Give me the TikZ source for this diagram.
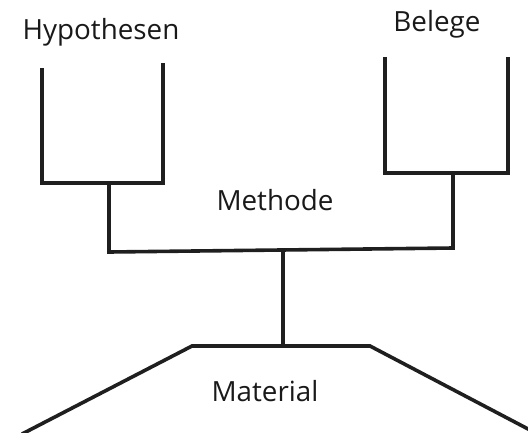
\documentclass[tikz,border=0pt]{standalone}
\usepackage{fontspec}
\setmainfont{Open Sans}
\usetikzlibrary{positioning}

\begin{document}
\begin{tikzpicture}[x=1pt,y=-1pt,line width=3.6pt,line join=miter,
        label/.style={font=\fontsize{27.8}{33}\selectfont,text=black!90}]
        \useasboundingbox (0,0) rectangle (528,432);

        \node[label] (hyp) at (101,32)  {Hypothesen};
        \node[label] (bel) at (437,24)  {Belege};
        \node[label] (met) at (275,200) {Methode};
        \node[label] (mat) at (265,391) {Material};

        \coordinate (h1) at (42,68);
        \coordinate (h2) at (42,183);
        \coordinate (h3) at (163,183);
        \coordinate (h4) at (163,63);
        \coordinate (hs) at (109,183);

        \coordinate (b1) at (385,57);
        \coordinate (b2) at (385,173);
        \coordinate (b3) at (508,173);
        \coordinate (b4) at (508,57);
        \coordinate (bs) at (453,173);

        \coordinate (ml) at (109,252);
        \coordinate (mr) at (453,248);
        \coordinate (mc) at (283,250);

        \coordinate (m1) at (22,434);
        \coordinate (m2) at (192,346);
        \coordinate (m3) at (370,346);
        \coordinate (m4) at (530,430);
        \coordinate (mt) at (283,346);

        \draw[black!88] (h1) -- (h2) -- (h3) -- (h4);
        \draw[black!88] (b1) -- (b2) -- (b3) -- (b4);
        \draw[black!88] (hs) -- (ml) -- (mr) -- (bs);
        \draw[black!88] (mc) -- (mt);
        \draw[black!88] (m1) -- (m2) -- (m3) -- (m4);

    \end{tikzpicture}
\end{document}
